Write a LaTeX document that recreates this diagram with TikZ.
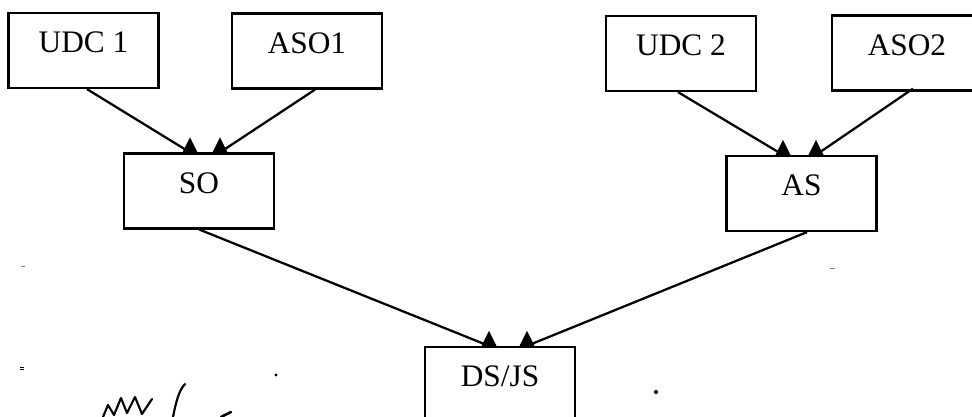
\documentclass[tikz,border=0pt]{standalone}
\usepackage{fontspec}
\setmainfont{Liberation Serif}
\usetikzlibrary{calc}
\begin{document}
\begin{tikzpicture}[x=0.75pt,y=-0.75pt,
  box/.style={draw, line width=1.7pt, fill=white, rectangle, inner sep=0pt,
    minimum width=112.5pt, minimum height=56.25pt,
    text height=30pt, text depth=26.25pt,
    font=\fontsize{23.5}{28}\selectfont},
  conn/.style={line width=1.7pt},
  headup/.pic={\fill (-7.5,0) -- (0,-15) -- (7.5,0) -- cycle;},
  speck/.style={fill=black}
]
\useasboundingbox (0,0) rectangle (972,417);
\clip (0,0) rectangle (972,417);
% boxes
\node[box] (UDC1) at (83.5,50.5) {UDC 1};
\node[box] (ASO1) at (307,51) {ASO1};
\node[box] (UDC2) at (681,53.5) {UDC 2};
\node[box] (ASO2) at (907,53) {ASO2};
\node[box] (SO) at (199,191) {SO};
\node[box] (AS) at (801.5,193.5) {AS};
\node[box] (DSJS) at (500,384.5) {DS/JS};
% connectors
\draw[conn] ($(UDC1.south)+(3.5,0)$) -- ($(SO.north)+(-9,0)$) pic{headup};
\draw[conn] ($(ASO1.south)+(8,0)$) -- ($(SO.north)+(21,0)$) pic{headup};
\draw[conn] ($(UDC2.south)+(-3,0)$) -- ($(AS.north)+(-18.5,0)$) pic{headup};
\draw[conn] ($(ASO2.south)+(6,-3)$) -- ($(AS.north)+(14.5,0)$) pic{headup};
\draw[conn] ($(SO.south)+(0.5,0)$) -- ($(DSJS.north)+(-11,0)$) pic{headup};
\draw[conn] ($(AS.south)+(5.5,0)$) -- ($(DSJS.north)+(27,0)$) pic{headup};
% scan specks and handwritten mark
\fill[speck] (276,375) circle (1.7);
\fill[speck] (656,392) circle (2.1);
\fill[gray] (21,266.5) rectangle (25,267.5);
\fill[gray] (830,268.5) rectangle (835,269.5);
\fill[speck] (20,366.5) rectangle (24,367.3);
\fill[speck] (20,369) rectangle (24,369.8);
\draw[line width=1.6pt, line cap=round, line join=round]
  (103,417) -- (108,405) -- (114,415) -- (121,398) -- (127,413) -- (135,397) -- (142,414) -- (152,399);
\draw[line width=1.6pt, line cap=round]
  (173,417) .. controls (176,402) and (179,390) .. (185,384);
\draw[line width=2pt, line cap=round] (221,417) -- (231,412);
\end{tikzpicture}
\end{document}
